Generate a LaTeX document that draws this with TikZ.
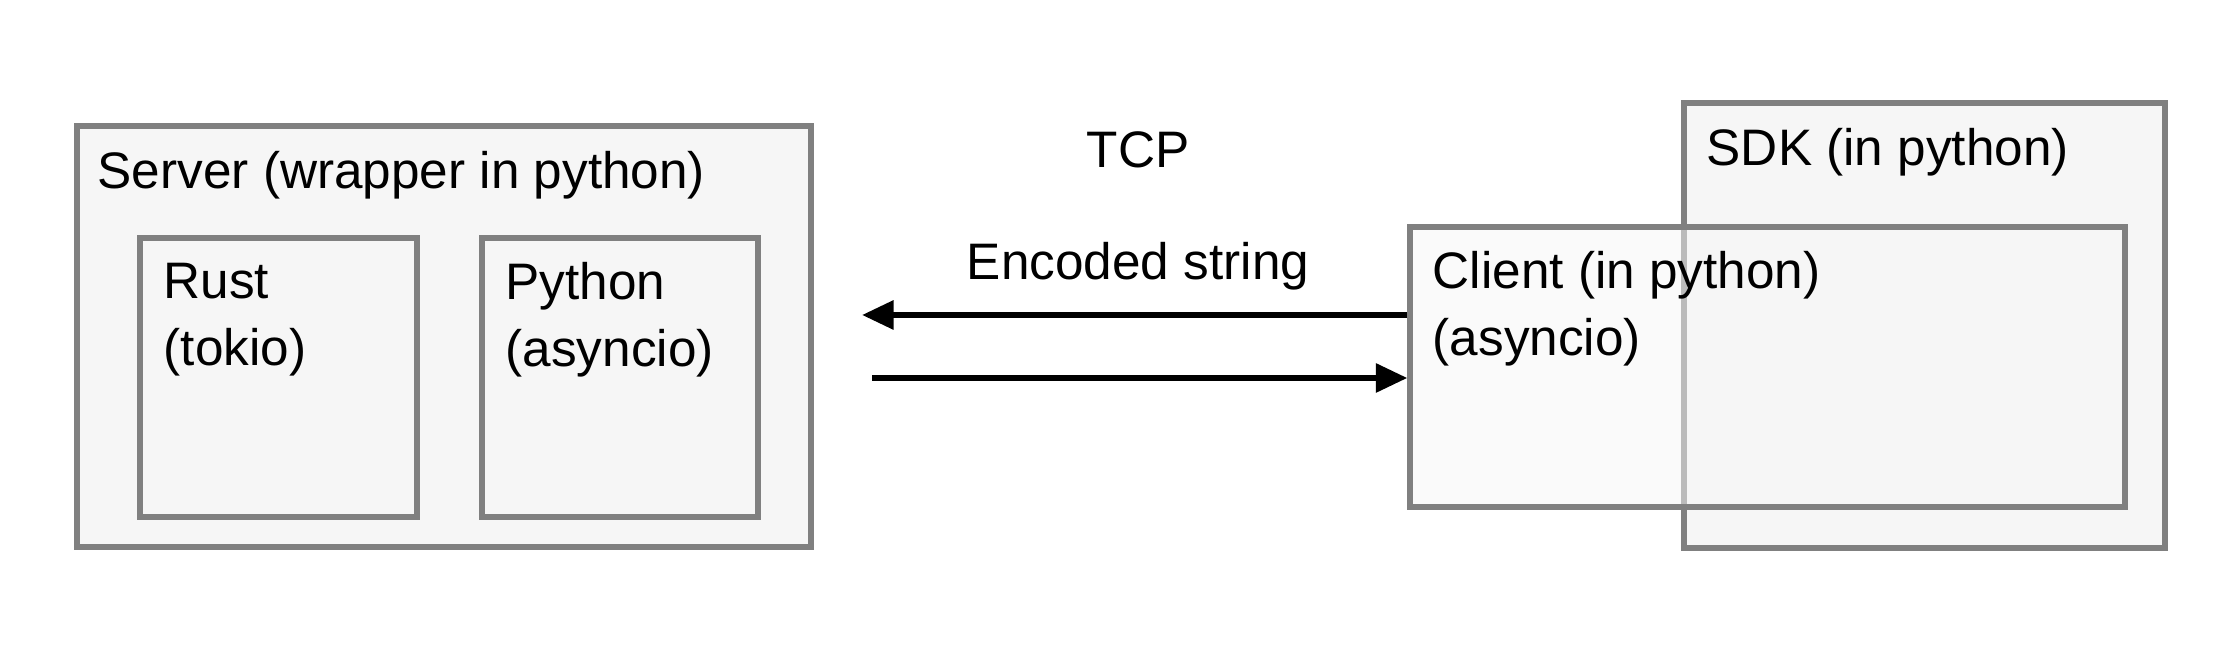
\documentclass[tikz,border=0pt]{standalone}
\usepackage{fontspec}
\setmainfont{Liberation Sans}
\usetikzlibrary{arrows.meta}
\definecolor{boxfill}{HTML}{F6F6F6}
\definecolor{boxline}{HTML}{808080}
\begin{document}
\begin{tikzpicture}[
    box/.style={rectangle, draw=boxline, fill=boxfill, line width=1.5pt, inner sep=0pt},
    txt/.style={anchor=west, align=left, inner sep=0pt, font=\fontsize{14.6}{19}\selectfont},
    link/.style={-{Triangle[length=9pt, width=8pt]}, line width=1.7pt}]
    \useasboundingbox (0,0) rectangle (22.38,6.50);
    % server side
    \node[box, minimum width=7.34cm, minimum height=4.21cm] (server) at (4.44,3.135) {};
    \node[txt] (serverl) at (0.97,4.75) {Server (wrapper in python)};
    \node[box, minimum width=2.77cm, minimum height=2.79cm] (rust) at (2.785,2.725) {};
    \node[txt] (rustl) at (1.63,3.30) {Rust\\(tokio)};
    \node[box, minimum width=2.76cm, minimum height=2.79cm] (python) at (6.20,2.725) {};
    \node[txt] (pythonl) at (5.05,3.30) {Python\\(asyncio)};
    % client side
    \node[box, minimum width=4.81cm, minimum height=4.45cm] (sdk) at (19.245,3.245) {};
    \node[txt] (sdkl) at (17.06,4.98) {SDK (in python)};
    \node[box, fill opacity=0.5, minimum width=7.15cm, minimum height=2.80cm] (client) at (17.675,2.83) {};
    \node[txt] (clientl) at (14.32,3.41) {Client (in python)\\(asyncio)};
    % connection
    \node[txt, anchor=center] (tcp) at (11.38,5.00) {TCP};
    \node[txt, anchor=center] (enc) at (11.38,3.84) {Encoded string};
    \coordinate (recv) at (8.62,3.35);
    \coordinate (send) at (8.72,2.72);
    \draw[link] (client.west |- recv) -- (recv);
    \draw[link] (send) -- (client.west |- send);
\end{tikzpicture}
\end{document}
